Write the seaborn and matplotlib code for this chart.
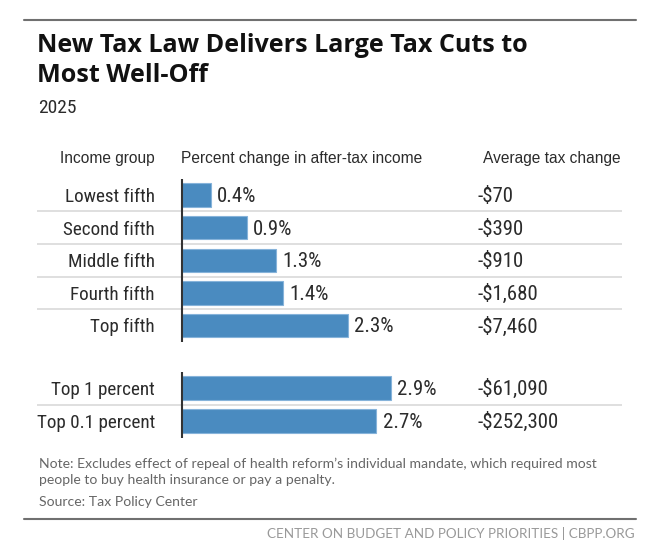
import matplotlib
matplotlib.use("Agg")
import matplotlib.pyplot as plt
from matplotlib.lines import Line2D
from matplotlib.transforms import offset_copy
from matplotlib import font_manager as fm
import seaborn as sns
import pandas as pd

# ---- data ----
groups_main = ["Lowest fifth", "Second fifth", "Middle fifth", "Fourth fifth", "Top fifth"]
pct_main = [0.4, 0.9, 1.3, 1.4, 2.3]
tax_main = ["-$70", "-$390", "-$910", "-$1,680", "-$7,460"]
groups_top = ["Top 1 percent", "Top 0.1 percent"]
pct_top = [2.9, 2.7]
tax_top = ["-$61,090", "-$252,300"]

title_lines = ["New Tax Law Delivers Large Tax Cuts to", "Most Well-Off"]
subtitle = "2025"
col_headers = ["Income group", "Percent change in after-tax income", "Average tax change"]
note_lines = ["Note: Excludes effect of repeal of health reform\u2019s individual mandate, which required most",
              "people to buy health insurance or pay a penalty."]
source = "Source: Tax Policy Center"
footer = "CENTER ON BUDGET AND POLICY PRIORITIES | CBPP.ORG"

# ---- style ----
sns.set_theme(style="white")
REG = ["Lato", "DejaVu Sans"]
plt.rcParams["font.family"] = REG

installed = {f.name for f in fm.fontManager.ttflist}
if "Roboto Condensed" in installed:
    NARROW, LAB_FS, NUM_FS = ["Roboto Condensed", "DejaVu Sans"], 13.8, 15.0
elif "Liberation Sans Narrow" in installed:
    NARROW, LAB_FS, NUM_FS = ["Liberation Sans Narrow", "DejaVu Sans"], 14.0, 15.2
else:
    NARROW, LAB_FS, NUM_FS = ["Roboto", "DejaVu Sans"], 12.5, 13.0
HEAD = ["Liberation Sans", "DejaVu Sans"]
TITLE = ["Open Sans", "DejaVu Sans"]

BAR = "#4a8bc0"
EDGE = "#86b3da"
TXT = "#2b2b2b"

W, H = 671, 560
fig = plt.figure(figsize=(W / 100, H / 100), dpi=100)
fig.patch.set_facecolor("white")


def fx(px):
    return px / W


def fy(py):
    return 1 - py / H


PXU = 72.0      # pixels per percentage point
X0 = 182        # x pixel of zero
LEFT, RIGHT = 37, 622


def table_block(groups, pcts, taxes, top, bottom):
    ax = fig.add_axes([fx(LEFT), fy(bottom), (RIGHT - LEFT) / W, (bottom - top) / H])
    df = pd.DataFrame({"group": groups, "pct": pcts})
    sns.barplot(data=df, x="pct", y="group", orient="h", color=BAR, saturation=1,
                edgecolor=EDGE, linewidth=0.8, width=0.72, ax=ax, zorder=2)
    n = len(groups)
    ax.set_ylim(n - 0.5, -0.5)
    ax.set_xlim(-(X0 - LEFT) / PXU, (RIGHT - X0) / PXU)
    ax.axis("off")
    for i in range(n - 1):
        ax.axhline(i + 0.5, color="#dcdcdc", lw=1.3, zorder=1)
    ax.axvline(0, color="#333333", lw=1.5, zorder=3)
    tr = offset_copy(ax.transData, fig=fig, x=0, y=-7.0, units="dots")
    for i, (g, v, t) in enumerate(zip(groups, pcts, taxes)):
        ax.text(-(X0 - 155) / PXU, i, g, ha="right", va="baseline", transform=tr,
                fontsize=LAB_FS, family=NARROW, color=TXT)
        ax.text(v + 6.5 / PXU, i, f"{v}%", ha="left", va="baseline", transform=tr,
                fontsize=NUM_FS, family=NARROW, color=TXT)
        ax.text((477 - X0) / PXU, i, t, ha="left", va="baseline", transform=tr,
                fontsize=NUM_FS, family=NARROW, color=TXT)
    return ax


table_block(groups_main, pct_main, tax_main, 178.7, 341.8)
table_block(groups_top, pct_top, tax_top, 371.5, 437.5)

# rules
for y in (20, 519):
    fig.add_artist(Line2D([fx(24), fx(636)], [fy(y), fy(y)], color="#707070", lw=1.5))

# titles
fig.text(fx(37), fy(51.7), title_lines[0], fontsize=18.1, fontweight="bold", color="#111111",
         va="baseline", family=TITLE)
fig.text(fx(37), fy(81.7), title_lines[1], fontsize=18.1, fontweight="bold", color="#111111",
         va="baseline", family=TITLE)
fig.text(fx(38), fy(113), subtitle, fontsize=14.0, color=TXT, va="baseline", family=NARROW)

# column headers
fig.text(fx(155), fy(163), col_headers[0], fontsize=11.2, color=TXT, va="baseline", ha="right", family=HEAD)
fig.text(fx(181), fy(163), col_headers[1], fontsize=11.2, color=TXT, va="baseline", ha="left", family=HEAD)
fig.text(fx(483), fy(163), col_headers[2], fontsize=11.2, color=TXT, va="baseline", ha="left", family=HEAD)

# notes
fig.text(fx(39), fy(468.3), note_lines[0], fontsize=10.1, color="#666666", va="baseline")
fig.text(fx(39), fy(484.3), note_lines[1], fontsize=10.1, color="#666666", va="baseline")
fig.text(fx(39), fy(505.7), source, fontsize=10.1, color="#666666", va="baseline")
fig.text(fx(635), fy(537.7), footer, fontsize=9.7, color="#999999", va="baseline", ha="right")

fig.savefig("out.png", dpi=100, facecolor="white")
